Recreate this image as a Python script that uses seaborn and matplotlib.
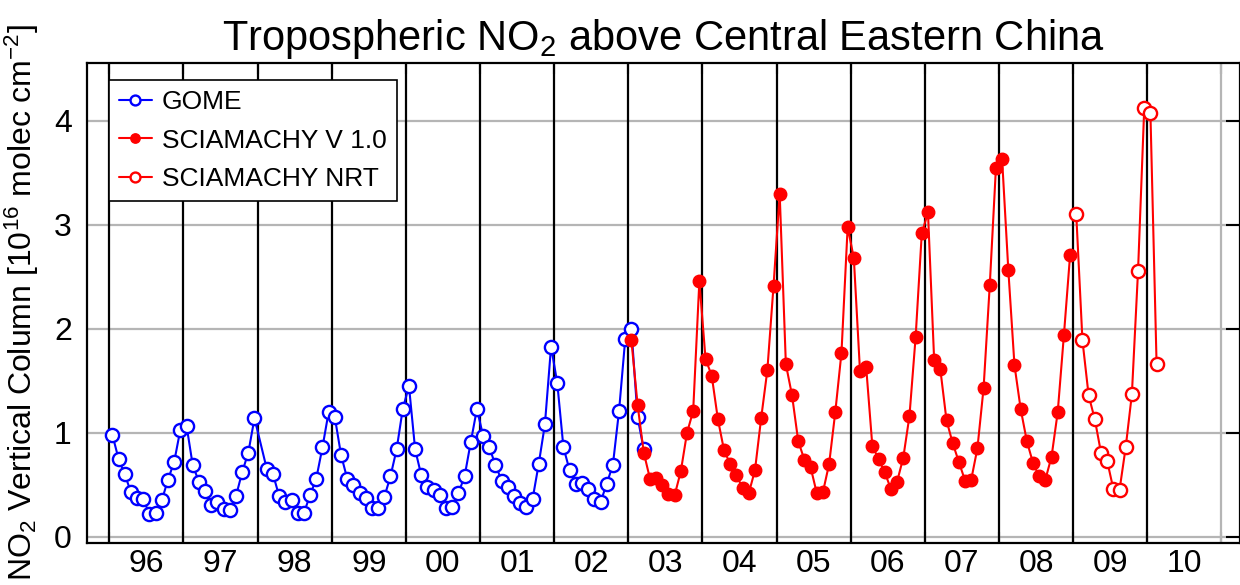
import numpy as np
import pandas as pd
import matplotlib
matplotlib.use("Agg")
import matplotlib.pyplot as plt
import seaborn as sns

# monthly means, first value = January of the start year (nan = no data)
gome_start = 1996
gome_no2 = [0.98, 0.75, 0.60, 0.43, 0.37, 0.36, 0.22, 0.23, 0.35, 0.55, 0.72, 1.03,
            1.07, 0.69, 0.53, 0.44, 0.31, 0.33, 0.27, 0.26, 0.39, 0.62, 0.81, 1.14,
            np.nan, 0.65, 0.60, 0.39, 0.33, 0.35, 0.23, 0.23, 0.40, 0.56, 0.86, 1.20,
            1.15, 0.79, 0.56, 0.50, 0.42, 0.37, 0.28, 0.28, 0.38, 0.58, 0.84, 1.23,
            1.45, 0.84, 0.59, 0.48, 0.45, 0.40, 0.28, 0.29, 0.42, 0.58, 0.91, 1.23,
            0.97, 0.86, 0.69, 0.54, 0.48, 0.39, 0.32, 0.29, 0.36, 0.70, 1.08, 1.83,
            1.48, 0.86, 0.64, 0.51, 0.52, 0.46, 0.36, 0.33, 0.51, 0.69, 1.21, 1.90,
            2.00, 1.15, 0.84]

scia_start = 2003
scia_no2 = [1.89, 1.27, 0.81, 0.56, 0.57, 0.50, 0.41, 0.40, 0.63, 1.00, 1.21, 2.46,
            1.71, 1.55, 1.13, 0.83, 0.70, 0.59, 0.47, 0.42, 0.64, 1.14, 1.60, 2.41,
            3.30, 1.66, 1.36, 0.92, 0.74, 0.67, 0.42, 0.43, 0.70, 1.20, 1.77, 2.98,
            2.68, 1.59, 1.63, 0.87, 0.75, 0.62, 0.46, 0.53, 0.76, 1.16, 1.92, 2.92,
            3.12, 1.70, 1.61, 1.12, 0.90, 0.72, 0.54, 0.55, 0.85, 1.43, 2.42, 3.55,
            3.63, 2.57, 1.65, 1.23, 0.92, 0.71, 0.58, 0.55, 0.77, 1.20, 1.94, 2.71]

nrt_start = 2009
nrt_no2 = [3.10, 1.89, 1.36, 1.13, 0.81, 0.73, 0.46, 0.45, 0.86, 1.37, 2.56, 4.12,
           4.08, 1.66]

years = list(range(1996, 2012))
year_labels = ["96", "97", "98", "99", "00", "01", "02", "03",
               "04", "05", "06", "07", "08", "09", "10"]


def monthly(start, values):
    t = start + (np.arange(len(values)) + 0.5) / 12
    df = pd.DataFrame({"time": t, "no2": values})
    return df.dropna()


gome = monthly(gome_start, gome_no2)
scia = monthly(scia_start, scia_no2)
nrt = monthly(nrt_start, nrt_no2)

sns.set_style("white")
plt.rcParams["font.family"] = ["Liberation Sans", "DejaVu Sans"]
plt.rcParams["mathtext.fontset"] = "custom"
plt.rcParams["mathtext.rm"] = "Liberation Sans"
plt.rcParams["mathtext.it"] = "Liberation Sans:italic"
plt.rcParams["mathtext.bf"] = "Liberation Sans:bold"
for k in ["text.color", "axes.labelcolor", "xtick.color", "ytick.color"]:
    plt.rcParams[k] = "black"

fig = plt.figure(figsize=(12.4, 5.85), dpi=100)
ax = fig.add_axes([0.0702, 0.0718, 0.9298, 0.821])

# year separators
for y in years:
    ax.axvline(y, color="black" if y < 2011 else "#b5b5b5", lw=1.6, zorder=1)

sns.lineplot(data=gome, x="time", y="no2", ax=ax, estimator=None, sort=False,
             color="blue", lw=1.5, marker="o", markersize=9.5,
             markerfacecolor="white", markeredgecolor="blue", markeredgewidth=1.7,
             label="GOME", zorder=3)
sns.lineplot(data=scia, x="time", y="no2", ax=ax, estimator=None, sort=False,
             color="red", lw=1.5, marker="o", markersize=9,
             markerfacecolor="red", markeredgecolor="red", markeredgewidth=1.0,
             label="SCIAMACHY V 1.0", zorder=3)
sns.lineplot(data=nrt, x="time", y="no2", ax=ax, estimator=None, sort=False,
             color="red", lw=1.5, marker="o", markersize=9.5,
             markerfacecolor="white", markeredgecolor="red", markeredgewidth=1.7,
             label="SCIAMACHY NRT", zorder=3)

ax.set_xlim(1995.70, 2011.25)
ax.set_ylim(-0.06, 4.56)

ax.set_yticks(range(5))
ax.yaxis.grid(True, color="#b5b5b5", lw=1.6)
ax.set_axisbelow(True)
ax.tick_params(axis="y", direction="in", length=10, width=1.5, right=True,
               labelsize=23, pad=11)

ax.set_xticks(years, labels=[""] * len(years))
ax.set_xticks([y + 0.5 for y in years[:-1]], labels=year_labels, minor=True)
ax.tick_params(axis="x", which="major", direction="in", length=8, width=1.5,
               top=True, bottom=True)
ax.tick_params(axis="x", which="minor", length=0, labelsize=23, pad=4)

for s in ax.spines.values():
    s.set_visible(True)
    s.set_color("black")
    s.set_linewidth(1.6)

ax.set_xlabel("")
ax.set_ylabel(r"NO$_2$ Vertical Column [10$^{16}$ molec cm$^{-2}$]", fontsize=23,
              labelpad=9)
ax.set_title(r"Tropospheric NO$_2$ above Central Eastern China", fontsize=30, pad=9)

leg = ax.legend(loc="upper left", bbox_to_anchor=(0.019, 0.964), borderaxespad=0,
                frameon=True, fancybox=False, edgecolor="black", framealpha=1,
                fontsize=19, handlelength=1.25, handletextpad=0.38, borderpad=0.38,
                labelspacing=0.55, markerscale=0.75)
leg.get_frame().set_linewidth(1.2)

fig.savefig("out.png", dpi=100)
